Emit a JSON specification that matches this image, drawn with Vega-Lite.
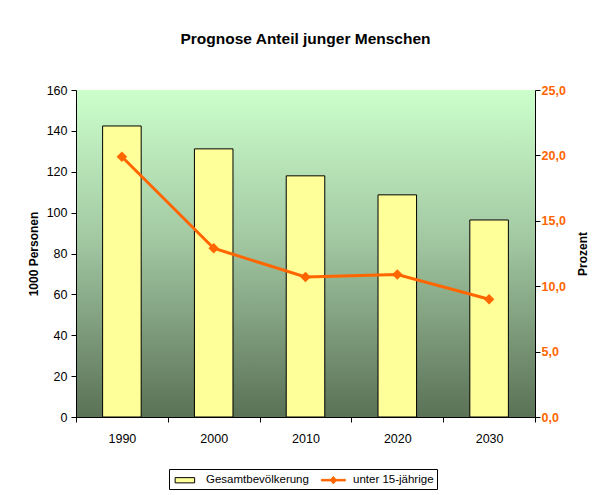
{
  "$schema": "https://vega.github.io/schema/vega-lite/v6.json",
  "width": 459,
  "height": 327,
  "autosize": {"type": "none"},
  "padding": {"left": 76, "top": 90, "right": 61, "bottom": 78},
  "background": "white",
  "title": {
    "text": "Prognose Anteil junger Menschen",
    "font": "Liberation Sans",
    "fontSize": 15.5,
    "fontWeight": "bold",
    "color": "black",
    "anchor": "middle",
    "offset": 37
  },
  "config": {
    "locale": {"number": {"decimal": ",", "thousands": ".", "grouping": [3], "currency": ["", " €"]}},
    "view": {
      "stroke": null,
      "fill": {
        "gradient": "linear",
        "x1": 0, "y1": 0, "x2": 0, "y2": 1,
        "stops": [
          {"offset": 0, "color": "#ccffcc"},
          {"offset": 0.45, "color": "#a3c9a3"},
          {"offset": 1, "color": "#5a7156"}
        ]
      }
    },
    "axis": {
      "labelFont": "Liberation Sans",
      "labelFontSize": 12.5,
      "labelColor": "black",
      "titleFont": "Liberation Sans",
      "titleFontSize": 12,
      "titleFontWeight": "bold",
      "titleColor": "black",
      "domainColor": "black",
      "tickColor": "black",
      "tickSize": 5,
      "grid": false
    },
    "legend": {
      "labelFont": "Liberation Sans",
      "labelFontSize": 11.5,
      "labelColor": "black",
      "symbolFillColor": "#ffff99",
      "symbolStrokeColor": "black",
      "symbolOpacity": 1
    }
  },
  "data": {
    "values": [
      {"Jahr": "1990", "Gesamtbevölkerung": 142.4, "unter 15-jährige": 19.9},
      {"Jahr": "2000", "Gesamtbevölkerung": 131.2, "unter 15-jährige": 12.9},
      {"Jahr": "2010", "Gesamtbevölkerung": 118.0, "unter 15-jährige": 10.7},
      {"Jahr": "2020", "Gesamtbevölkerung": 108.7, "unter 15-jährige": 10.9},
      {"Jahr": "2030", "Gesamtbevölkerung": 96.4, "unter 15-jährige": 9.0}
    ]
  },
  "encoding": {
    "x": {
      "field": "Jahr",
      "type": "nominal",
      "sort": null,
      "scale": {"paddingInner": 0, "paddingOuter": 0},
      "axis": {"title": null, "labelAngle": 0, "tickBand": "extent", "labelPadding": 10}
    }
  },
  "layer": [
    {
      "mark": {"type": "bar", "color": "#ffff99", "stroke": "black", "strokeWidth": 1, "width": {"band": 0.42}},
      "encoding": {
        "y": {
          "field": "Gesamtbevölkerung",
          "type": "quantitative",
          "scale": {"domain": [0, 160], "nice": false},
          "axis": {"title": "1000 Personen", "values": [0, 20, 40, 60, 80, 100, 120, 140, 160], "labelPadding": 4, "titlePadding": 6}
        }
      }
    },
    {
      "mark": {"type": "line", "color": "#ff6600", "strokeWidth": 3, "point": {"shape": "diamond", "size": 110, "filled": true, "color": "#ff6600"}},
      "encoding": {
        "y": {
          "field": "unter 15-jährige",
          "type": "quantitative",
          "scale": {"domain": [0, 25], "nice": false},
          "axis": {
            "orient": "right",
            "title": "Prozent",
            "titleAngle": 270,
            "values": [0, 5, 10, 15, 20, 25],
            "format": ".1f",
            "labelColor": "#ff6600",
            "labelFontWeight": "bold",
            "labelPadding": 1,
            "titlePadding": 24
          }
        }
      }
    },
    {
      "transform": [{"fold": ["Gesamtbevölkerung", "unter 15-jährige"], "as": ["Serie", "Wert"]}],
      "mark": {"type": "point", "filled": true, "opacity": 0, "size": 225},
      "encoding": {
        "fill": {
          "field": "Serie",
          "type": "nominal",
          "scale": {"domain": ["Gesamtbevölkerung", "unter 15-jährige"], "range": ["#ffff99", "#ff6600"]},
          "legend": {
            "title": null,
            "orient": "none",
            "legendX": 93,
            "legendY": 379,
            "direction": "horizontal",
            "columns": 2,
            "padding": 3,
            "strokeColor": "black",
            "fillColor": "white",
            "symbolSize": 225,
            "symbolOpacity": 1,
            "symbolStrokeWidth": 1,
            "labelOffset": 18,
            "columnPadding": 10,
            "labelLimit": 300
          }
        },
        "stroke": {
          "field": "Serie",
          "type": "nominal",
          "scale": {"domain": ["Gesamtbevölkerung", "unter 15-jährige"], "range": ["black", "#ff6600"]}
        },
        "shape": {
          "field": "Serie",
          "type": "nominal",
          "scale": {"domain": ["Gesamtbevölkerung", "unter 15-jährige"], "range": ["M-0.65,-0.35H1.95V0.35H-0.65Z", "M-0.75,-0.1H2.45V0.1H-0.75Z M0.85,-0.5L1.25,0L0.85,0.5L0.45,0Z"]}
        }
      }
    }
  ],
  "resolve": {"scale": {"y": "independent"}}
}
